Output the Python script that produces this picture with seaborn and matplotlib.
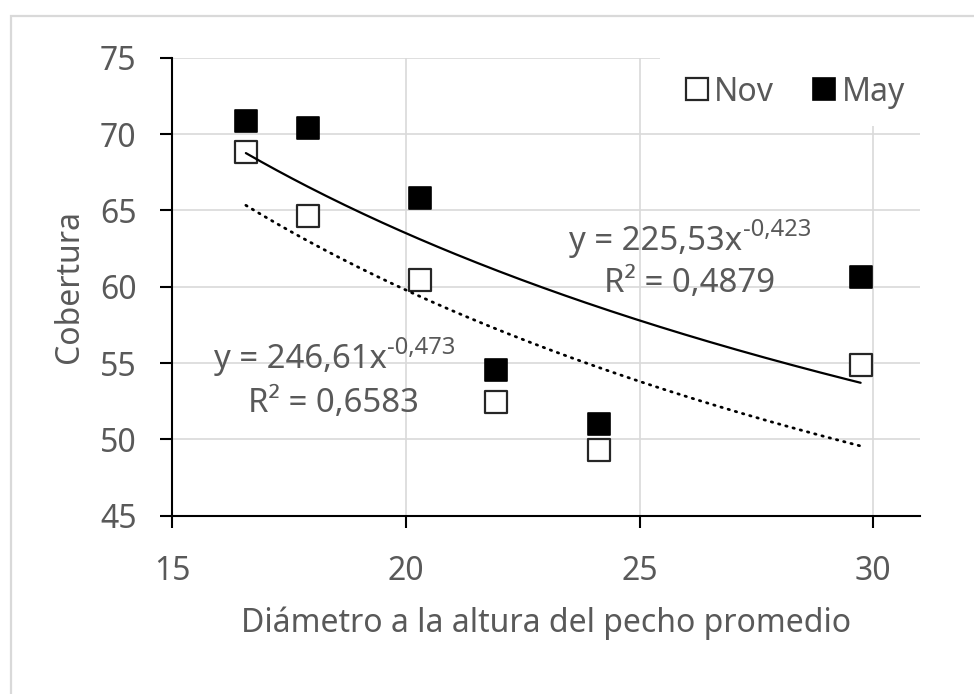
import numpy as np
import pandas as pd
import matplotlib
matplotlib.use("Agg")
import matplotlib.pyplot as plt
from matplotlib.lines import Line2D
from matplotlib.patches import Rectangle
import seaborn as sns

# ---- data ----
dap = [16.58, 17.91, 20.30, 21.94, 24.13, 29.73]
cobertura_nov = [68.82, 64.61, 60.43, 52.42, 49.30, 54.88]
cobertura_may = [70.87, 70.39, 65.82, 54.55, 51.02, 60.65]
series_names = ["Nov", "May"]

# power trendlines y = a * x^b (as printed on the chart)
trend1_a, trend1_b, trend1_r2 = 225.53, -0.423, "0,4879"
trend2_a, trend2_b, trend2_r2 = 246.61, -0.473, "0,6583"
trend1_label = "y = 225,53x"
trend1_exp = "-0,423"
trend2_label = "y = 246,61x"
trend2_exp = "-0,473"

x_ticks = [15, 20, 25, 30]
y_ticks = [45, 50, 55, 60, 65, 70, 75]
x_label = "Diámetro a la altura del pecho promedio"
y_label = "Cobertura"

# ---- styling ----
sns.set_theme(style="white")
plt.rcParams["font.family"] = ["Noto Sans", "DejaVu Sans"]
plt.rcParams["xtick.bottom"] = True
plt.rcParams["ytick.left"] = True
TXT = "#595959"
GRID = "#d9d9d9"
FS = 23

W, H = 974, 694
fig = plt.figure(figsize=(W / 100, H / 100), dpi=100)
L, R, T, B = 172, 920, 57.8, 515.7
ax = fig.add_axes([L / W, 1 - B / H, (R - L) / W, (B - T) / H])

# outer chart border (top and left visible)
fig.patches.append(Rectangle((11 / W, -0.1), 1.2, 1 - 16 / H + 0.1,
                             transform=fig.transFigure, fill=False,
                             edgecolor=GRID, linewidth=1.6, zorder=0))

df = pd.DataFrame({
    "x": dap * 2,
    "y": cobertura_nov + cobertura_may,
    "serie": [series_names[0]] * len(dap) + [series_names[1]] * len(dap),
})

ms = 15.5
sns.scatterplot(data=df[df.serie == "May"], x="x", y="y", marker="s",
                s=ms ** 2, color="black", edgecolor="black", linewidth=1.2,
                ax=ax, zorder=3, legend=False)
sns.scatterplot(data=df[df.serie == "Nov"], x="x", y="y", marker="s",
                s=ms ** 2, color="white", edgecolor="#262626", linewidth=1.6,
                ax=ax, zorder=3, legend=False)

xs = np.linspace(min(dap), max(dap), 200)
t1 = pd.DataFrame({"x": xs, "y": trend1_a * xs ** trend1_b})
t2 = pd.DataFrame({"x": xs, "y": trend2_a * xs ** trend2_b})
sns.lineplot(data=t1, x="x", y="y", color="black", linewidth=1.6, ax=ax, zorder=4)
sns.lineplot(data=t2, x="x", y="y", color="black", linewidth=2.0,
             linestyle=(0, (0.5, 2.2)), dash_capstyle="round", ax=ax, zorder=4)

ax.set_xlim(15, 31)
ax.set_ylim(45, 75)
ax.set_xticks(x_ticks)
ax.set_yticks(y_ticks)
ax.grid(True, color=GRID, linewidth=1.2)
ax.set_axisbelow(True)
for s in ["top", "right"]:
    ax.spines[s].set_visible(False)
for s in ["left", "bottom"]:
    ax.spines[s].set_color("black")
    ax.spines[s].set_linewidth(1.5)
ax.tick_params(axis="both", which="major", bottom=True, left=True,
               direction="out", length=8.5, width=1.5,
               color="black", labelcolor=TXT, labelsize=FS)
ax.tick_params(axis="y", pad=17)
ax.tick_params(axis="x", pad=20)
ax.set_xlabel(x_label, fontsize=FS, color=TXT, labelpad=13)
ax.set_ylabel(y_label, fontsize=FS, color=TXT, labelpad=10)

# white box behind legend (hides gridlines like the original)
ax.add_patch(Rectangle((0.652, 0.851), 0.40, 0.2, transform=ax.transAxes,
                       facecolor="white", edgecolor="none", zorder=1,
                       clip_on=False))

handles = [
    Line2D([], [], marker="s", ls="", markersize=ms, markerfacecolor="white",
           markeredgecolor="#262626", markeredgewidth=1.6),
    Line2D([], [], marker="s", ls="", markersize=ms, markerfacecolor="black",
           markeredgecolor="black", markeredgewidth=1.2),
]
leg = ax.legend(handles, series_names, ncol=2, loc="center",
                bbox_to_anchor=(0.833, 0.925), frameon=False, fontsize=FS,
                handlelength=0.7, handletextpad=0.2, columnspacing=1.2,
                borderpad=0)
for t in leg.get_texts():
    t.set_color(TXT)

# trendline equations
EFS = FS + 0.7
def equation(x, y_base, main, exp, r2, r2x, r2y):
    tm = ax.text(x, y_base, main, fontsize=EFS, color=TXT,
                 ha="left", va="baseline", zorder=5)
    ax.annotate(exp, xy=(1, y_base), xycoords=(tm, "data"),
                xytext=(0.5, 10), textcoords="offset points",
                fontsize=EFS * 0.72, color=TXT, ha="left", va="baseline",
                zorder=5)
    ax.text(r2x, r2y, "R² = " + r2, fontsize=EFS, color=TXT,
            ha="center", va="baseline", zorder=5)

equation(23.50, 62.44, trend1_label, trend1_exp, trend1_r2, 26.07, 59.63)
equation(15.89, 54.66, trend2_label, trend2_exp, trend2_r2, 18.46, 51.78)

fig.savefig("out.png", dpi=100, facecolor="white")
